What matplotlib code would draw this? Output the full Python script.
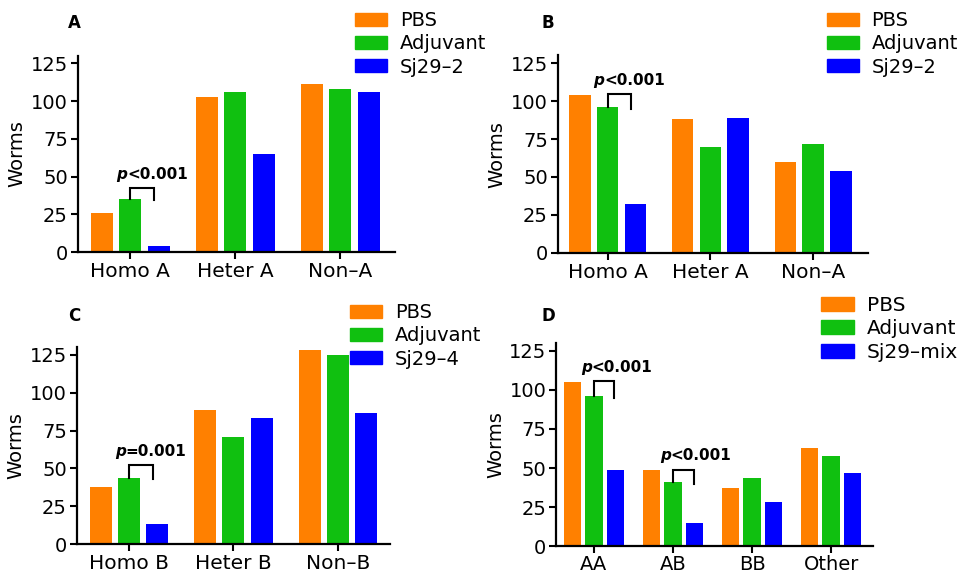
#!/usr/bin/env python3
from matplotlib import pyplot as plt
from matplotlib.patches import Patch
import numpy as np

plt.rcParams['font.family'] = ['DejaVu Sans']

# values
colors = ['#FF8000', '#10C010', '#0000FF']

cats_a = ['Homo A', 'Heter A', 'Non\u2013A']
pbs_a = [26, 103, 111]
adj_a = [35, 106, 108]
sj_a = [4, 65, 106]

cats_b = ['Homo A', 'Heter A', 'Non\u2013A']
pbs_b = [104, 88, 60]
adj_b = [96, 70, 72]
sj_b = [32, 89, 54]

cats_c = ['Homo B', 'Heter B', 'Non\u2013B']
pbs_c = [37.5, 88.5, 128]
adj_c = [43.5, 70.5, 125]
sj_c = [13, 83, 86.5]

cats_d = ['AA', 'AB', 'BB', 'Other']
pbs_d = [105, 49, 37, 63]
adj_d = [96, 41, 43.5, 58]
sj_d = [49, 15, 28.5, 47]

W, H = 965, 574
fig = plt.figure(figsize=(W / 100, H / 100), dpi=100)


def px_axes(left, right, top, bottom):
  return fig.add_axes([left / W, 1 - bottom / H, (right - left) / W, (bottom - top) / H])


def panel(ax, cats, series, xlim, width=0.21, pitch=0.27, fs=14.5, xpad=2):
  xs = np.arange(len(cats))
  for i, (vals, c) in enumerate(zip(series, colors)):
    ax.bar(xs + (i - 1) * pitch, vals, width, color=c)
  ax.set_xlim(*xlim)
  ax.set_ylim(0, 130)
  ax.set_yticks([0, 25, 50, 75, 100, 125])
  ax.set_xticks(xs)
  ax.set_xticklabels(cats, fontsize=fs)
  ax.tick_params(axis='y', labelsize=14, pad=2)
  ax.tick_params(axis='x', pad=xpad)
  ax.tick_params(length=5, width=1.5)
  for s in ['top', 'right']:
    ax.spines[s].set_visible(False)
  for s in ['left', 'bottom']:
    ax.spines[s].set_linewidth(1.6)
  ax.set_ylabel('Worms', fontsize=14, labelpad=3)


def pmark(ax, gx, yleft, yright, ytop, label, x1=0.23, ytext=None):
  ax.plot([gx, gx, gx + x1, gx + x1], [yleft, ytop, ytop, yright], color='black', lw=1.5,
          solid_joinstyle='miter')
  if ytext is None:
    ytext = ytop + 4
  sx = gx - 0.03
  ax.text(sx, ytext, 'p', style='italic', weight='bold', fontsize=11, ha='right', va='bottom')
  ax.text(sx, ytext, label, weight='bold', fontsize=11, ha='left', va='bottom')


def legend(ax, names, x, y, fs=14):
  handles = [Patch(color=c) for c in colors]
  ax.legend(handles, names, loc='upper left', bbox_to_anchor=(x / W, 1 - y / H),
            bbox_transform=fig.transFigure, frameon=False, fontsize=fs,
            handlelength=1.65, handleheight=0.68, handletextpad=0.65,
            labelspacing=0.22, borderpad=0, borderaxespad=0)


# A
ax = px_axes(77.7, 395, 55.7, 252.3)
panel(ax, cats_a, [pbs_a, adj_a, sj_a], (-0.5, 2.52))
pmark(ax, 0, adj_a[0], 34.5, 42.5, '<0.001')
legend(ax, ['PBS', 'Adjuvant', 'Sj29\u20132'], 355, 11)
fig.text(74 / W, 1 - 23 / H, 'A', weight='bold', fontsize=12, ha='center', va='center')

# B
ax = px_axes(557.7, 867.7, 55.4, 253)
panel(ax, cats_b, [pbs_b, adj_b, sj_b], (-0.485, 2.53))
pmark(ax, 0, adj_b[0], 95, 104.5, '<0.001')
legend(ax, ['PBS', 'Adjuvant', 'Sj29\u20132'], 826.7, 11)
fig.text(548 / W, 1 - 23 / H, 'B', weight='bold', fontsize=12, ha='center', va='center')

# C
ax = px_axes(76.7, 390, 347.4, 544)
panel(ax, cats_c, [pbs_c, adj_c, sj_c], (-0.5, 2.5))
pmark(ax, 0, adj_c[0], 43, 52, '=0.001')
legend(ax, ['PBS', 'Adjuvant', 'Sj29\u20134'], 350, 303)
fig.text(74 / W, 1 - 316 / H, 'C', weight='bold', fontsize=12, ha='center', va='center')

# D
ax = px_axes(556, 873, 342.8, 546.3)
panel(ax, cats_d, [pbs_d, adj_d, sj_d], (-0.48, 3.53), width=0.22, fs=14, xpad=1)
pmark(ax, 0, adj_d[0], 95, 105.5, '<0.001', x1=0.26)
pmark(ax, 1, adj_d[1], 40, 49, '<0.001', x1=0.26)
legend(ax, ['PBS', 'Adjuvant', 'Sj29\u2013mix'], 820.7, 296, fs=14.5)
fig.text(548 / W, 1 - 316 / H, 'D', weight='bold', fontsize=12, ha='center', va='center')

fig.savefig('out.png', dpi=100)
